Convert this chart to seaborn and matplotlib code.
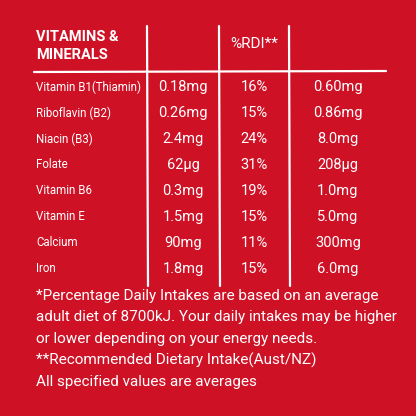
import matplotlib
matplotlib.use("Agg")
import matplotlib.pyplot as plt
import seaborn as sns

names = ["Vitamin B1(Thiamin)", "Riboflavin (B2)", "Niacin (B3)", "Folate", "Vitamin B6", "Vitamin E", "Calcium", "Iron"]
per_serve = ["0.18mg", "0.26mg", "2.4mg", "62µg", "0.3mg", "1.5mg", "90mg", "1.8mg"]
rdi = ["16%", "15%", "24%", "31%", "19%", "15%", "11%", "15%"]
per_100 = ["0.60mg", "0.86mg", "8.0mg", "208µg", "1.0mg", "5.0mg", "300mg", "6.0mg"]
header = ["VITAMINS &\nMINERALS", "", "%RDI**", ""]
footnote = ["*Percentage Daily Intakes are based on an average",
            "adult diet of 8700kJ. Your daily intakes may be higher",
            "or lower depending on your energy needs.",
            "**Recommended Dietary Intake(Aust/NZ)",
            "All specified values are averages"]

sns.set_theme(style="white")
plt.rcParams['font.family'] = ['Roboto', 'DejaVu Sans']
fig = plt.figure(figsize=(4.16, 4.16), dpi=100)
fig.patch.set_facecolor("#cf1126")
ax = fig.add_axes([0, 0, 1, 1])
ax.set_facecolor("#cf1126")
ax.set_xlim(0, 416); ax.set_ylim(416, 0); ax.axis("off")

W = "white"
ax.text(36, 46, header[0], color=W, fontsize=10.5, fontweight="bold", va="center", linespacing=1.3)
ax.text(254, 44, header[2], color=W, fontsize=11, va="center", ha="center")
ax.plot([34, 386], [72, 71], color=W, lw=1.6)
for x in [147, 219, 289]:
    ax.plot([x, x + 1], [26, 286], color=W, lw=1.6)

y0, dy = 87, 26
for i in range(len(names)):
    y = y0 + i * dy
    ax.text(36, y, names[i], color=W, fontsize=8.3, va="center")
    ax.text(183, y, per_serve[i], color=W, fontsize=10.5, va="center", ha="center")
    ax.text(254, y, rdi[i], color=W, fontsize=10.5, va="center", ha="center")
    ax.text(338, y, per_100[i], color=W, fontsize=10.5, va="center", ha="center")

for i, line in enumerate(footnote):
    ax.text(36, 296 + i * 21.5, line, color=W, fontsize=11, va="center")

fig.savefig("out.png", dpi=100, facecolor=fig.get_facecolor())
